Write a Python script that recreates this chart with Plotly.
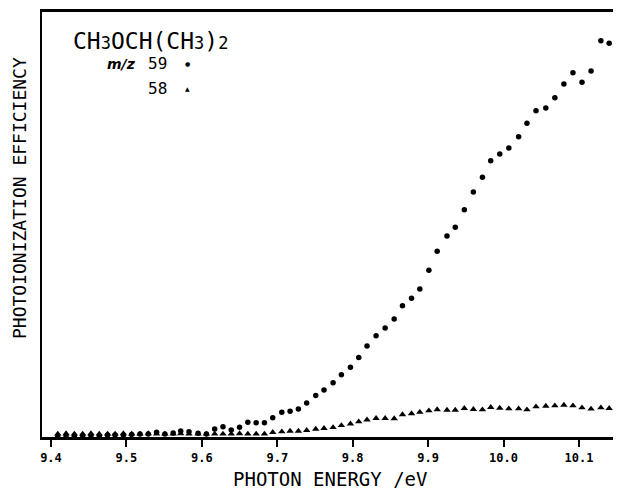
import plotly.graph_objects as go

# Photon energy (eV) of each measured point
energy = [9.409, 9.420, 9.431, 9.442, 9.453, 9.464, 9.475, 9.485, 9.496, 9.507,
          9.518, 9.529, 9.540, 9.551, 9.562, 9.572, 9.583, 9.595, 9.606, 9.617,
          9.628, 9.639, 9.650, 9.661, 9.672, 9.683, 9.694, 9.706, 9.717, 9.728,
          9.739, 9.751, 9.762, 9.774, 9.785, 9.797, 9.808, 9.819, 9.831, 9.843,
          9.855, 9.866, 9.878, 9.889, 9.901, 9.912, 9.925, 9.936, 9.948, 9.960,
          9.972, 9.983, 9.995, 10.007, 10.020, 10.031, 10.043, 10.056, 10.068, 10.080,
          10.092, 10.104, 10.116, 10.129, 10.140, 10.153]

# m/z 59 photoionization efficiency (arbitrary units)
pie_59 = [0.24, 0.24, 0.24, 0.24, 0.35, 0.24, 0.47, 0.47, 0.47, 0.59,
          0.71, 0.71, 1.10, 0.71, 0.94, 1.41, 1.25, 0.87, 0.71, 1.88,
          2.42, 1.65, 2.28, 3.46, 3.36, 3.36, 4.54, 5.81, 6.05, 6.59,
          8.00, 9.76, 11.06, 12.78, 14.66, 16.42, 18.71, 21.41, 23.84, 25.65,
          27.76, 30.89, 32.64, 34.82, 39.25, 43.69, 47.29, 49.34, 53.48, 57.65,
          61.11, 65.01, 66.59, 68.00, 70.66, 73.81, 76.78, 77.41, 79.84, 83.06,
          85.72, 83.46, 86.12, 93.25, 92.64, 96.16]

# m/z 58 photoionization efficiency (arbitrary units)
pie_58 = [0.71, 0.82, 0.71, 0.71, 0.82, 0.71, 0.71, 0.71, 0.82, 0.71,
          0.71, 0.82, 0.71, 0.71, 0.71, 0.82, 0.71, 0.71, 0.71, 0.71,
          0.71, 0.71, 0.82, 0.71, 0.71, 0.71, 1.11, 1.25, 1.41, 1.41,
          1.58, 1.88, 2.05, 2.24, 2.71, 3.11, 3.60, 4.05, 4.40, 4.40,
          4.35, 5.29, 5.53, 5.84, 6.19, 6.47, 6.35, 6.35, 6.75, 6.52,
          6.42, 6.99, 6.82, 6.66, 6.66, 6.42, 7.13, 7.29, 7.36, 7.53,
          7.36, 6.89, 6.59, 6.89, 6.75, 7.22]

tick_vals = [9.4, 9.5, 9.6, 9.7, 9.8, 9.9, 10.0, 10.1]
tick_text = ["9.4", "9.5", "9.6", "9.7", "9.8", "9.9", "10.0", "10.1"]

# the page body has an 8 px margin, so the figure is offset by 8 px
OFF = 8
W, H = 621 - OFF, 490 - OFF
L, R, T, B = 42 - OFF, 0, 12 - OFF, 53
pw, ph = W - L - R, H - T - B


def px(x):
    return (x - OFF - L) / pw


def py(y):
    return (H - B - (y - OFF)) / ph


fig = go.Figure()
fig.add_trace(go.Scatter(x=energy, y=pie_59, mode="markers", name="m/z 59",
                         marker=dict(symbol="circle", size=5.5, color="black")))
fig.add_trace(go.Scatter(x=energy, y=pie_58, mode="markers", name="m/z 58",
                         marker=dict(symbol="triangle-up", size=6.5, color="black")))

mono = "DejaVu Sans Mono"
sub = "<span style='font-size:17px'>%s</span>"
anns = [
    dict(x=px(71), y=py(41), text="CH" + sub % "3" + "OCH(CH" + sub % "3" + ")" + sub % "2",
         xanchor="left", yanchor="middle", font=dict(family=mono, size=23)),
    dict(x=px(138), y=py(64), text="<b><i>m/z</i></b>", xanchor="right", yanchor="middle",
         font=dict(family="DejaVu Sans", size=14)),
    dict(x=px(146), y=py(64), text="59", xanchor="left", yanchor="middle",
         font=dict(family=mono, size=16)),
    dict(x=px(146), y=py(88), text="58", xanchor="left", yanchor="middle",
         font=dict(family=mono, size=16)),
    dict(x=px(187), y=py(64), text="●", xanchor="center", yanchor="middle",
         font=dict(family="DejaVu Sans", size=6)),
    dict(x=px(187), y=py(88), text="▲", xanchor="center", yanchor="middle",
         font=dict(family="DejaVu Sans", size=6)),
    dict(x=px(330), y=py(479), text="PHOTON ENERGY /eV", xanchor="center", yanchor="middle",
         font=dict(family=mono, size=19)),
    dict(x=px(19), y=py(198), text="PHOTOIONIZATION EFFICIENCY", textangle=-90,
         xanchor="center", yanchor="middle", font=dict(family=mono, size=18)),
]
for a in anns:
    a.update(xref="paper", yref="paper", showarrow=False)

fig.update_layout(
    width=W, height=H,
    margin=dict(l=L, r=R, t=T, b=B, pad=0),
    paper_bgcolor="white", plot_bgcolor="white",
    font=dict(color="black"),
    showlegend=False,
    annotations=anns,
    xaxis=dict(range=[9.3881, 10.1557], tickvals=tick_vals, ticktext=tick_text,
               showgrid=False, zeroline=False, showline=True, mirror=True,
               linecolor="black", linewidth=2.5, ticks="outside", ticklen=7,
               tickwidth=2, tickcolor="black", ticklabelstandoff=1,
               tickfont=dict(family=mono, size=12, color="black", weight="bold")),
    yaxis=dict(range=[0, 100], showgrid=False, zeroline=False, showline=True,
               linecolor="black", linewidth=2, showticklabels=False, ticks=""),
)

fig.write_html("out.html")
